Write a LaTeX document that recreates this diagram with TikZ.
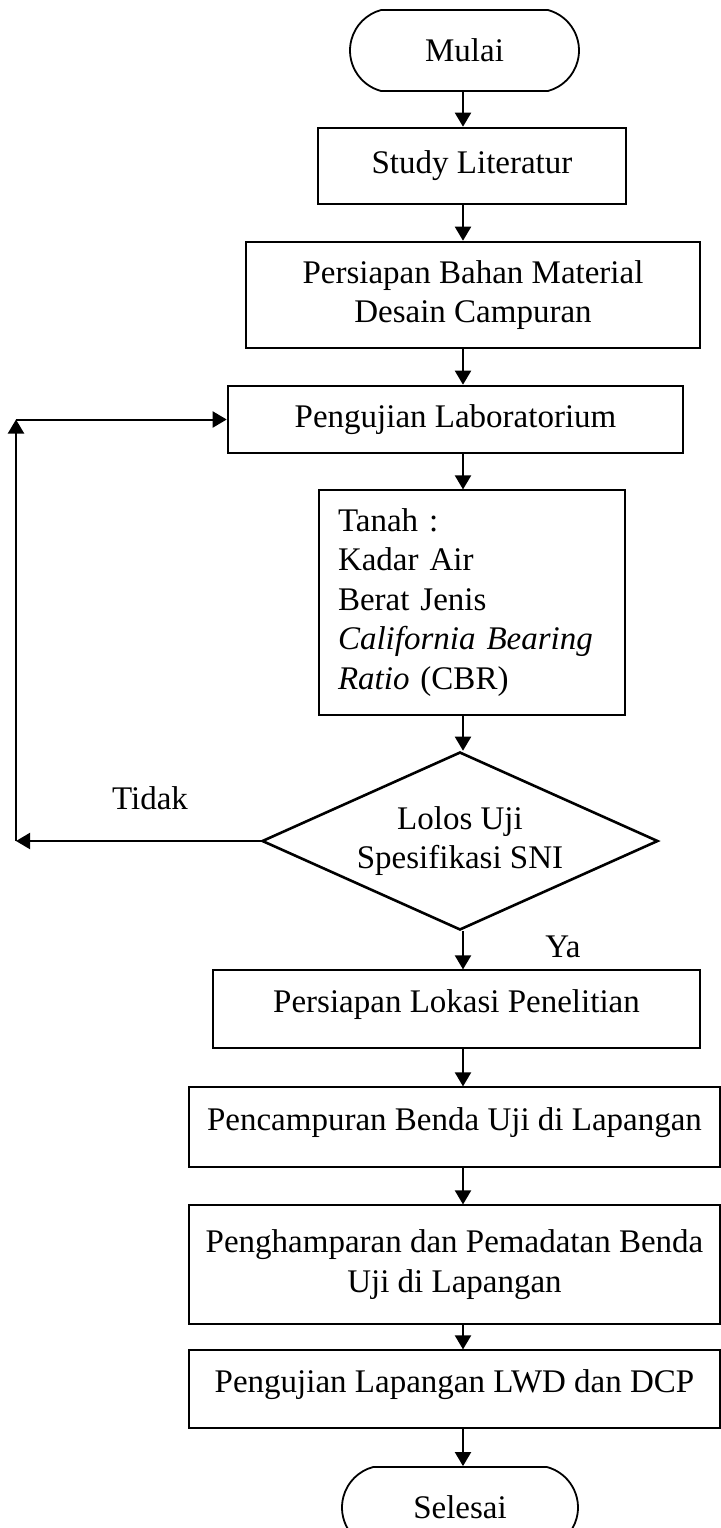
\documentclass[tikz,border=0pt]{standalone}
\usepackage{fontspec}
\setmainfont{Liberation Serif}
\usetikzlibrary{shapes.geometric,shapes.misc,arrows.meta}

\begin{document}
\begin{tikzpicture}[x=0.5pt, y=-0.5pt,
    font=\fontsize{16.5}{19.75}\selectfont,
    box/.style={draw, line width=1.3pt, inner sep=0pt, align=center},
    thinbox/.style={draw, line width=0.6pt, inner sep=0pt, align=center, text depth=7.5pt},
    term/.style={draw, line width=0.9pt, rounded rectangle, rounded rectangle arc length=150, inner sep=0pt},
    arr/.style={line width=1pt, -{Triangle[length=7pt,width=8pt]}}]
    \useasboundingbox (0,0) rectangle (721,1528);
    \clip (0,0) rectangle (721,1528);
    % main column
    \node[term, minimum width=114.5pt, minimum height=40.5pt] (mulai) at (464.5,50.5) {Mulai};
    \node[box, minimum width=154pt, minimum height=38pt] (study) at (472,166) {Study Literatur};
    \node[box, minimum width=227pt, minimum height=53pt] (bahan) at (473,295) {Persiapan Bahan Material\\Desain Campuran};
    \node[box, minimum width=227.5pt, minimum height=33.5pt] (lab) at (455.5,419.5) {Pengujian Laboratorium};
    \node[thinbox, text depth=, minimum width=153pt, minimum height=112.5pt, text width=134pt, align=left] (tanah) at (472,602.5)
      {Tanah :\\Kadar Air\\Berat Jenis\\\textit{California Bearing}\\\textit{Ratio} (CBR)};
    \node[diamond, draw, line width=1.3pt, aspect=2.22, minimum width=198pt, minimum height=89pt,
      inner sep=0pt, align=center] (lolos) at (460,841) {Lolos Uji\\Spesifikasi SNI};
    \node[thinbox, minimum width=243.5pt, minimum height=39pt] (lokasi) at (456.5,1009) {Persiapan Lokasi Penelitian};
    \node[thinbox, minimum width=265.5pt, minimum height=40pt] (campur) at (454.5,1127) {Pencampuran Benda Uji di Lapangan};
    \node[thinbox, text depth=, minimum width=265.5pt, minimum height=59.5pt] (hampar) at (454.5,1264.5)
      {Penghamparan dan Pemadatan Benda\\Uji di Lapangan};
    \node[thinbox, minimum width=265.5pt, minimum height=39pt] (lapangan) at (454.5,1389) {Pengujian Lapangan LWD dan DCP};
    \node[term, minimum width=118pt, minimum height=40.5pt] (selesai) at (460,1507.5) {Selesai};
    % labels
    \node (tidak) at (150,798) {Tidak};
    \node (ya) at (563,947) {Ya};
    % arrows
    \coordinate (mid) at (463,0);
    \coordinate (edge) at (16,0);
    \foreach \a/\b in {mulai/study, study/bahan, bahan/lab, lab/tanah, tanah/lolos,
      lolos/lokasi, lokasi/campur, campur/hampar, hampar/lapangan, lapangan/selesai}
      \draw[arr] (mid |- \a.south) -- (mid |- \b.north);
    \draw[arr] (lolos.west) -- (lolos.west -| edge);
    \draw[arr] (lolos.west -| edge) -- (lab.west -| edge);
    \draw[arr] (lab.west -| edge) -- (lab.west);
  \end{tikzpicture}
\end{document}
